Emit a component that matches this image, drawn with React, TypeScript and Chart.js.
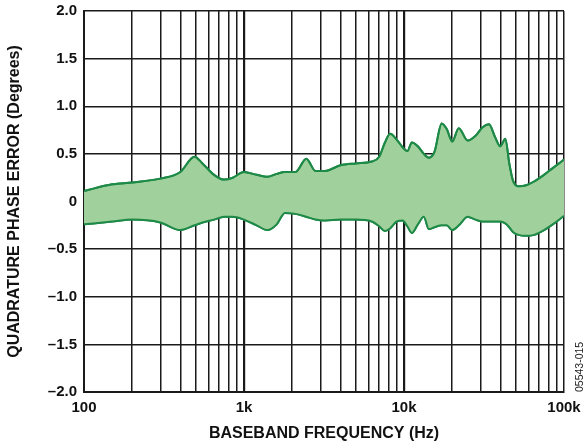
import React, { useEffect, useRef } from "react";
import { Chart, registerables } from "chart.js";

Chart.register(...registerables);

// Baseband frequency (Hz)
const frequencies = [
  100, 150, 200, 300, 400, 490, 550, 650, 750, 850, 1000, 1200, 1400, 1600, 1800,
  2100, 2450, 2800, 3200, 4000, 5000, 6300, 7000, 7600, 8200, 9000, 9800, 10500,
  11200, 12200, 13300, 14300, 15500, 17200, 18500, 20000, 22000, 25000, 28000,
  31000, 34000, 37000, 40000, 43000, 45500, 48000, 52000, 58000, 65000, 75000,
  85000, 100000,
];

// Upper envelope of quadrature phase error (degrees)
const upperError = [
  0.11, 0.18, 0.2, 0.24, 0.31, 0.47, 0.4, 0.28, 0.23, 0.25, 0.31, 0.28, 0.26, 0.29, 0.31,
  0.31, 0.45, 0.32, 0.32, 0.38, 0.4, 0.42, 0.47, 0.62, 0.71, 0.65, 0.57, 0.53,
  0.62, 0.58, 0.5, 0.46, 0.52, 0.82, 0.76, 0.63, 0.77, 0.64, 0.69,
  0.78, 0.81, 0.68, 0.58, 0.66, 0.4, 0.22, 0.16, 0.17, 0.21, 0.28,
  0.35, 0.44,
];

// Lower envelope of quadrature phase error (degrees)
const lowerError = [
  -0.24, -0.21, -0.19, -0.22, -0.3, -0.25, -0.22, -0.19, -0.16, -0.16, -0.19, -0.25, -0.3, -0.24, -0.12,
  -0.13, -0.16, -0.19, -0.2, -0.19, -0.19, -0.21, -0.26, -0.31, -0.28, -0.21, -0.2, -0.26,
  -0.33, -0.24, -0.16, -0.29, -0.27, -0.25, -0.25, -0.3, -0.25, -0.16, -0.19,
  -0.21, -0.21, -0.21, -0.21, -0.23, -0.27, -0.32, -0.35, -0.36, -0.35, -0.3,
  -0.24, -0.15,
];

const decadeLabels: Record<number, string> = { 100: "100", 1000: "1k", 10000: "10k", 100000: "100k" };
const yTickValues = [-2, -1.5, -1, -0.5, 0, 0.5, 1, 1.5, 2];
const figureCode = "05543-015";

const FONT = "'Liberation Sans', Arial, Helvetica, sans-serif";
const LINE = "#1e8a47";
const FILL = "#a0d09c";
const GRID = "#1a1a1a";

export default function App() {
  const ref = useRef<HTMLCanvasElement | null>(null);

  useEffect(() => {
    if (!ref.current) return;

    const topLines = {
      id: "topLines",
      afterDraw(chart: any) {
        const ctx = chart.ctx;
        const a = chart.chartArea;
        ctx.save();
        ctx.beginPath();
        ctx.rect(a.left, a.top, a.right - a.left, a.bottom - a.top);
        ctx.clip();
        chart.data.datasets.forEach((_: any, i: number) => {
          const meta = chart.getDatasetMeta(i);
          if (meta && meta.dataset) meta.dataset.draw(ctx, a);
        });
        ctx.restore();
        ctx.save();
        ctx.font = `10.5px ${FONT}`;
        ctx.fillStyle = "#222";
        ctx.translate(580, 392);
        ctx.rotate(-Math.PI / 2);
        ctx.textAlign = "left";
        ctx.textBaseline = "middle";
        ctx.fillText(figureCode, 0, 0);
        ctx.restore();
      },
    };

    const chart = new Chart(ref.current, {
      type: "line",
      data: {
        datasets: [
          {
            data: frequencies.map((f, i) => ({ x: f, y: upperError[i] })),
            borderColor: LINE,
            backgroundColor: FILL,
            borderWidth: 2,
            pointRadius: 0,
            fill: "+1",
            cubicInterpolationMode: "monotone",
          },
          {
            data: frequencies.map((f, i) => ({ x: f, y: lowerError[i] })),
            borderColor: LINE,
            backgroundColor: FILL,
            borderWidth: 2,
            pointRadius: 0,
            fill: false,
            cubicInterpolationMode: "monotone",
          },
        ],
      },
      options: {
        responsive: false,
        animation: false,
        layout: { padding: { left: 0, right: 22, top: 11, bottom: 0 } },
        plugins: { legend: { display: false }, tooltip: { enabled: false } },
        scales: {
          x: {
            type: "logarithmic",
            min: 100,
            max: 100000,
            z: 1,
            afterBuildTicks(scale: any) {
              const t: { value: number }[] = [];
              for (let d = 100; d < 100000; d *= 10) {
                for (let m = 1; m < 10; m++) t.push({ value: d * m });
              }
              t.push({ value: 100000 });
              scale.ticks = t;
            },
            afterFit(scale: any) {
              scale.height = 54;
              scale.paddingLeft = 0;
              scale.paddingRight = 0;
            },
            ticks: {
              autoSkip: false,
              maxRotation: 0,
              padding: 7,
              color: "#111",
              font: { family: FONT, size: 15, weight: "bold" },
              callback: (v: any) => decadeLabels[Math.round(Number(v))] ?? "",
            },
            grid: {
              color: GRID,
              drawTicks: false,
              lineWidth: (c: any) => {
                const v = c.tick ? Math.round(c.tick.value) : 0;
                return v === 1000 || v === 10000 ? 2.2 : 1.5;
              },
            },
            border: { color: GRID, width: 2 },
            title: {
              display: true,
              text: "BASEBAND FREQUENCY (Hz)",
              color: "#111",
              font: { family: FONT, size: 16, weight: "bold" },
              padding: { top: 0, bottom: 3 },
            },
          },
          y: {
            type: "linear",
            min: -2,
            max: 2,
            z: 1,
            afterBuildTicks(scale: any) {
              scale.ticks = yTickValues.map((v) => ({ value: v }));
            },
            afterFit(scale: any) {
              scale.width = 84;
              scale.paddingTop = 0;
              scale.paddingBottom = 0;
            },
            ticks: {
              padding: 7,
              color: "#111",
              font: { family: FONT, size: 15, weight: "bold" },
              callback: (v: any) => {
                const n = Number(v);
                if (n === 0) return "0";
                return n < 0 ? "\u2013" + Math.abs(n).toFixed(1) : n.toFixed(1);
              },
            },
            grid: { color: GRID, drawTicks: false, lineWidth: 1.5 },
            border: { color: GRID, width: 2 },
            title: {
              display: true,
              text: "QUADRATURE PHASE ERROR (Degrees)",
              color: "#111",
              font: { family: FONT, size: 16, weight: "bold" },
              padding: { top: 5, bottom: 0 },
            },
          },
        },
      } as any,
      plugins: [topLines],
    });

    return () => chart.destroy();
  }, []);

  return (
    <div style={{ position: "absolute", left: 0, top: 0, width: 586, height: 446, background: "#fff" }}>
      <canvas ref={ref} width={586} height={446} style={{ display: "block" }} />
    </div>
  );
}
